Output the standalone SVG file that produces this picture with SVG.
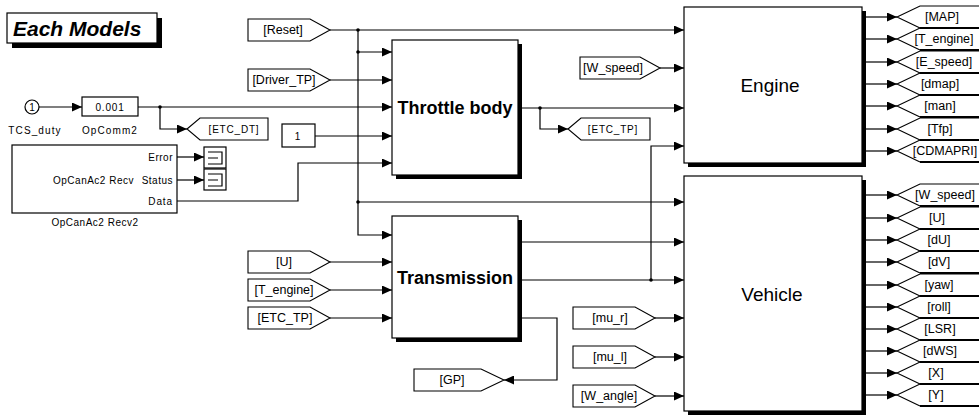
<svg xmlns="http://www.w3.org/2000/svg" width="979" height="418" viewBox="0 0 979 418">
<style>
.ln{fill:none;stroke:#000;stroke-width:1.2}
.ar{marker-end:url(#ah)}
.blk{fill:#fff;stroke:#000;stroke-width:1.2}
.sh{fill:#000}
.tag{fill:#fff;stroke:#000;stroke-width:1.1}
.ot{fill:none;stroke:#000;stroke-width:1.1}
.ob{fill:none;stroke:#000;stroke-width:2}
.t{font-family:"Liberation Sans",Arial,sans-serif;font-size:12.5px;fill:#000;text-anchor:middle}
.s{font-family:"Liberation Sans",Arial,sans-serif;font-size:10px;letter-spacing:0.8px;fill:#000}
.big{font-family:"Liberation Sans",Arial,sans-serif;font-size:18px;font-weight:bold;fill:#000;text-anchor:middle}
.bigr{font-family:"Liberation Sans",Arial,sans-serif;font-size:19px;fill:#000;text-anchor:middle}
</style>
<defs>
<marker id="ah" markerWidth="11" markerHeight="9" refX="10" refY="4.5" orient="auto" markerUnits="userSpaceOnUse"><path d="M0,0 L10,4.5 L0,9 z" fill="#000"/></marker>
</defs>
<rect width="979" height="418" fill="#fff"/>

<g id="title">
<rect x="12" y="18" width="150" height="30" class="sh"/>
<rect x="7" y="13" width="150" height="30" class="blk"/>
<text x="13" y="36" style="font-family:'Liberation Sans',Arial,sans-serif;font-size:21px;font-weight:bold;font-style:italic">Each Models</text>
</g>

<g id="connectors">
<path class="ln ar" d="M39,107 H82"/>
<path class="ln ar" d="M138,107 H392"/>
<path class="ln ar" d="M160,107 V129 H187"/>
<path class="ln ar" d="M330,30 H684"/>
<path class="ln ar" d="M358,30 V235 H392"/>
<path class="ln ar" d="M358,52 H392"/>
<path class="ln ar" d="M358,202 H684"/>
<path class="ln ar" d="M330,80 H392"/>
<path class="ln ar" d="M315,136 H392"/>
<path class="ln ar" d="M177,201 H298 V163 H392"/>
<path class="ln ar" d="M177,157 H204"/>
<path class="ln ar" d="M177,180 H204"/>
<path class="ln ar" d="M522,108 H684"/>
<path class="ln ar" d="M540,108 V129 H568"/>
<path class="ln ar" d="M660,68 H684"/>
<path class="ln ar" d="M522,242 H684"/>
<path class="ln ar" d="M522,280 H684"/>
<path class="ln ar" d="M651,280 V146 H684"/>
<path class="ln ar" d="M522,318 H557 V380 H504"/>
<path class="ln ar" d="M330,262 H392"/>
<path class="ln ar" d="M330,290 H392"/>
<path class="ln ar" d="M330,318 H392"/>
<path class="ln ar" d="M655,318 H684"/>
<path class="ln ar" d="M655,357 H684"/>
<path class="ln ar" d="M655,396 H684"/>
<path class="ln ar" d="M866,17 H897"/>
<path class="ln ar" d="M866,39 H897"/>
<path class="ln ar" d="M866,62 H897"/>
<path class="ln ar" d="M866,84 H897"/>
<path class="ln ar" d="M866,106 H897"/>
<path class="ln ar" d="M866,129 H897"/>
<path class="ln ar" d="M866,151 H897"/>
<path class="ln ar" d="M866,195 H897"/>
<path class="ln ar" d="M866,218 H897"/>
<path class="ln ar" d="M866,240 H897"/>
<path class="ln ar" d="M866,262 H897"/>
<path class="ln ar" d="M866,285 H897"/>
<path class="ln ar" d="M866,307 H897"/>
<path class="ln ar" d="M866,329 H897"/>
<path class="ln ar" d="M866,351 H897"/>
<path class="ln ar" d="M866,373 H897"/>
<path class="ln ar" d="M866,395 H897"/>
<circle cx="160" cy="107" r="1.8"/>
<circle cx="358" cy="30" r="1.8"/>
<circle cx="358" cy="52" r="1.8"/>
<circle cx="358" cy="202" r="1.8"/>
<circle cx="540" cy="108" r="1.8"/>
<circle cx="651" cy="280" r="1.8"/>
</g>

<g id="tcs_duty">
<circle cx="32" cy="107" r="7" class="blk"/>
<text x="32" y="111" class="s" text-anchor="middle" style="letter-spacing:0">1</text>
<text x="35" y="134" class="s" text-anchor="middle" style="letter-spacing:1.1px">TCS_duty</text>
</g>

<g id="opcomm2">
<rect x="82" y="97" width="56" height="19" class="blk"/>
<text x="110" y="111" class="s" text-anchor="middle">0.001</text>
<text x="110" y="134" class="s" text-anchor="middle" style="letter-spacing:1.1px">OpComm2</text>
</g>

<g id="etc_dt">
<path class="tag" d="M187,129 L200,118 H268 V140 H200 Z"/>
<text x="234" y="133" class="s" text-anchor="middle">[ETC_DT]</text>
</g>

<g id="const1">
<rect x="282" y="124" width="33" height="23" class="blk"/>
<text x="298" y="140" class="s" text-anchor="middle">1</text>
</g>

<g id="opcanac2">
<rect x="12" y="145" width="165" height="68" class="blk"/>
<text x="173" y="161" class="s" text-anchor="end" style="letter-spacing:0.5px">Error</text>
<text x="134" y="184" class="s" text-anchor="end" style="letter-spacing:0.5px">OpCanAc2 Recv</text>
<text x="173" y="184" class="s" text-anchor="end" style="letter-spacing:0.5px">Status</text>
<text x="173" y="205" class="s" text-anchor="end" style="letter-spacing:0.9px">Data</text>
<text x="95" y="226" class="s" text-anchor="middle" style="letter-spacing:0.5px">OpCanAc2 Recv2</text>
</g>

<g id="term1">
<rect x="204" y="147" width="22" height="21" class="blk"/>
<path class="ln" d="M208,152 H222 V164 H208 M208,158 H218"/>
</g>
<g id="term2">
<rect x="204" y="169" width="22" height="21" class="blk"/>
<path class="ln" d="M208,174 H222 V186 H208 M208,180 H218"/>
</g>

<g id="reset"><path class="tag" d="M248,19 H310 L330,30 L310,41 H248 Z"/><text x="283" y="34" class="t">[Reset]</text></g>
<g id="driver_tp"><path class="tag" d="M248,69 H310 L330,80 L310,91 H248 Z"/><text x="284" y="84" class="t">[Driver_TP]</text></g>
<g id="u_in"><path class="tag" d="M248,251 H310 L330,262 L310,273 H248 Z"/><text x="284" y="266" class="t">[U]</text></g>
<g id="t_engine_in"><path class="tag" d="M248,279 H310 L330,290 L310,301 H248 Z"/><text x="284" y="294" class="t">[T_engine]</text></g>
<g id="etc_tp_in"><path class="tag" d="M248,307 H310 L330,318 L310,329 H248 Z"/><text x="285" y="322" class="t">[ETC_TP]</text></g>

<g id="throttle_body">
<rect x="396" y="44" width="126" height="135" class="sh"/>
<rect x="392" y="40" width="126" height="135" class="blk"/>
<text x="455" y="114" class="big">Throttle body</text>
</g>

<g id="transmission">
<rect x="396" y="220" width="126" height="122" class="sh"/>
<rect x="392" y="216" width="126" height="122" class="blk"/>
<text x="455" y="284" class="big">Transmission</text>
</g>

<g id="gp"><path class="tag" d="M414,369 H481 L504,380 L481,391 H414 Z"/><text x="452" y="384" class="t">[GP]</text></g>

<g id="etc_tp_out"><path class="tag" d="M568,129 L581,118 H650 V140 H581 Z"/><text x="613" y="133" class="s" text-anchor="middle">[ETC_TP]</text></g>

<g id="w_speed_in"><path class="tag" d="M580,57 H640 L660,68 L640,79 H580 Z"/><text x="613" y="72" class="t">[W_speed]</text></g>
<g id="mu_r"><path class="tag" d="M573,307 H635 L655,318 L635,329 H573 Z"/><text x="610" y="322" class="t">[mu_r]</text></g>
<g id="mu_l"><path class="tag" d="M573,346 H635 L655,357 L635,368 H573 Z"/><text x="610" y="361" class="t">[mu_l]</text></g>
<g id="w_angle"><path class="tag" d="M573,385 H635 L655,396 L635,407 H573 Z"/><text x="609" y="400" class="t">[W_angle]</text></g>

<g id="engine">
<rect x="688" y="11" width="178" height="156" class="sh"/>
<rect x="684" y="7" width="178" height="156" class="blk"/>
<text x="770" y="92" class="bigr">Engine</text>
</g>

<g id="vehicle">
<rect x="688" y="180" width="178" height="235" class="sh"/>
<rect x="684" y="176" width="178" height="235" class="blk"/>
<text x="772" y="301" class="bigr">Vehicle</text>
</g>

<g id="engine_outputs">
<g id="out_map"><path class="ot" d="M979,6 H920 L897,17 L920,28"/><path class="ob" d="M920,28 H979"/><text x="942" y="21" class="t">[MAP]</text></g>
<g id="out_t_engine"><path class="ot" d="M979,28 H920 L897,39 L920,50"/><path class="ob" d="M920,50 H979"/><text x="944" y="43" class="t">[T_engine]</text></g>
<g id="out_e_speed"><path class="ot" d="M979,51 H920 L897,62 L920,73"/><path class="ob" d="M920,73 H979"/><text x="944" y="66" class="t">[E_speed]</text></g>
<g id="out_dmap"><path class="ot" d="M979,73 H920 L897,84 L920,95"/><path class="ob" d="M920,95 H979"/><text x="940" y="88" class="t">[dmap]</text></g>
<g id="out_man"><path class="ot" d="M979,95 H920 L897,106 L920,117"/><path class="ob" d="M920,117 H979"/><text x="940" y="110" class="t">[man]</text></g>
<g id="out_tfp"><path class="ot" d="M979,118 H920 L897,129 L920,140"/><path class="ob" d="M920,140 H979"/><text x="940" y="133" class="t">[Tfp]</text></g>
<g id="out_cdmapri"><path class="ot" d="M979,140 H920 L897,151 L920,162"/><path class="ob" d="M920,162 H979"/><text x="945" y="155" class="t">[CDMAPRI]</text></g>
</g>

<g id="vehicle_outputs">
<g id="out_w_speed"><path class="ot" d="M979,184 H920 L897,195 L920,206"/><path class="ob" d="M920,206 H979"/><text x="945" y="199" class="t">[W_speed]</text></g>
<g id="out_u"><path class="ot" d="M979,207 H920 L897,218 L920,229"/><path class="ob" d="M920,229 H979"/><text x="937" y="222" class="t">[U]</text></g>
<g id="out_du"><path class="ot" d="M979,229 H920 L897,240 L920,251"/><path class="ob" d="M920,251 H979"/><text x="939" y="244" class="t">[dU]</text></g>
<g id="out_dv"><path class="ot" d="M979,251 H920 L897,262 L920,273"/><path class="ob" d="M920,273 H979"/><text x="939" y="266" class="t">[dV]</text></g>
<g id="out_yaw"><path class="ot" d="M979,274 H920 L897,285 L920,296"/><path class="ob" d="M920,296 H979"/><text x="939" y="289" class="t">[yaw]</text></g>
<g id="out_roll"><path class="ot" d="M979,296 H920 L897,307 L920,318"/><path class="ob" d="M920,318 H979"/><text x="939" y="311" class="t">[roll]</text></g>
<g id="out_lsr"><path class="ot" d="M979,318 H920 L897,329 L920,340"/><path class="ob" d="M920,340 H979"/><text x="940" y="333" class="t">[LSR]</text></g>
<g id="out_dws"><path class="ot" d="M979,340 H920 L897,351 L920,362"/><path class="ob" d="M920,362 H979"/><text x="940" y="355" class="t">[dWS]</text></g>
<g id="out_x"><path class="ot" d="M979,362 H920 L897,373 L920,384"/><path class="ob" d="M920,384 H979"/><text x="936" y="377" class="t">[X]</text></g>
<g id="out_y"><path class="ot" d="M979,384 H920 L897,395 L920,406"/><path class="ob" d="M920,406 H979"/><text x="936" y="399" class="t">[Y]</text></g>
</g>
</svg>
